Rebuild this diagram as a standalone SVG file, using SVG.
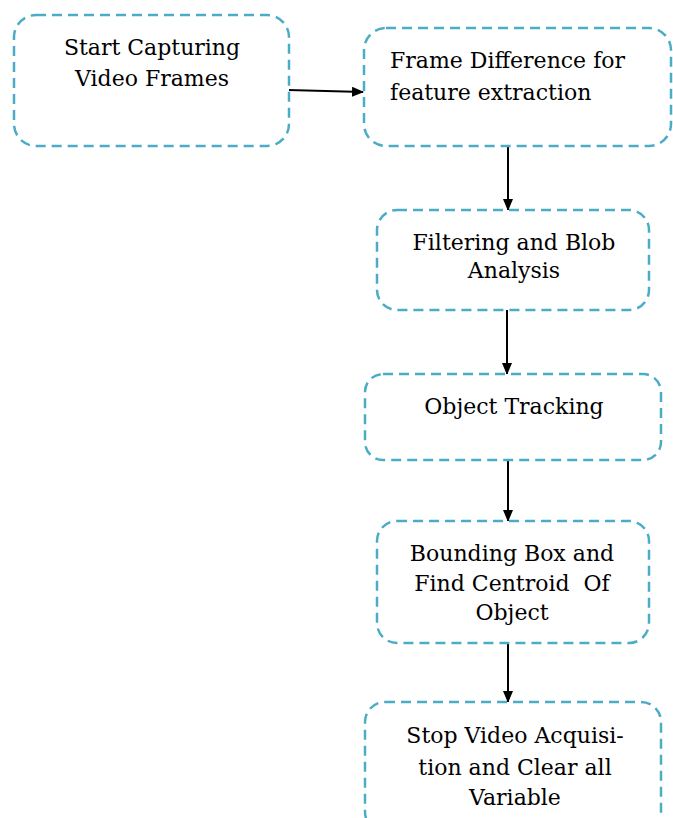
<svg xmlns="http://www.w3.org/2000/svg" width="673" height="818" viewBox="0 0 673 818">
<style>
.box{fill:#fff;stroke:#4bacc6;stroke-width:2.5;stroke-dasharray:10 6}
.t{font-family:"DejaVu Serif","Liberation Serif",serif;font-size:22px;fill:#000}
.c{text-anchor:middle}
.ln{stroke:#000;stroke-width:2;fill:none}
</style>
<defs>
<marker id="ah" markerWidth="12" markerHeight="10" refX="11" refY="5" orient="auto" markerUnits="userSpaceOnUse">
<path d="M0,0 L12,5 L0,10 Z" fill="#000"/>
</marker>
</defs>
<rect width="673" height="818" fill="#fff"/>
<g id="connectors">
<line class="ln" x1="288" y1="90" x2="363" y2="92" marker-end="url(#ah)"/>
<line class="ln" x1="508" y1="146" x2="508" y2="210" marker-end="url(#ah)"/>
<line class="ln" x1="507" y1="310" x2="507" y2="374" marker-end="url(#ah)"/>
<line class="ln" x1="508" y1="460" x2="508" y2="521" marker-end="url(#ah)"/>
<line class="ln" x1="508" y1="643" x2="508" y2="702" marker-end="url(#ah)"/>
</g>
<g id="n1">
<rect class="box" x="14" y="15" width="275" height="131" rx="22"/>
<text class="t c" x="152" y="55">Start Capturing</text>
<text class="t c" x="152" y="86">Video Frames</text>
</g>
<g id="n2">
<rect class="box" x="364" y="28" width="307" height="118" rx="22"/>
<text class="t" x="390" y="68">Frame Difference for</text>
<text class="t" x="390" y="100">feature extraction</text>
</g>
<g id="n3">
<rect class="box" x="377" y="210" width="272" height="100" rx="20"/>
<text class="t c" x="514" y="250">Filtering and Blob</text>
<text class="t c" x="514" y="278">Analysis</text>
</g>
<g id="n4">
<rect class="box" x="365" y="374" width="296" height="86" rx="18"/>
<text class="t c" x="514" y="414">Object Tracking</text>
</g>
<g id="n5">
<rect class="box" x="377" y="521" width="272" height="122" rx="20"/>
<text class="t c" x="512" y="561">Bounding Box and</text>
<text class="t c" x="512" y="591" style="white-space:pre">Find Centroid  Of</text>
<text class="t c" x="512" y="620">Object</text>
</g>
<g id="n6">
<rect class="box" x="365" y="702" width="296" height="130" rx="20"/>
<text class="t c" x="515" y="743">Stop Video Acquisi-</text>
<text class="t c" x="515" y="775">tion and Clear all</text>
<text class="t c" x="515" y="805">Variable</text>
</g>
</svg>
